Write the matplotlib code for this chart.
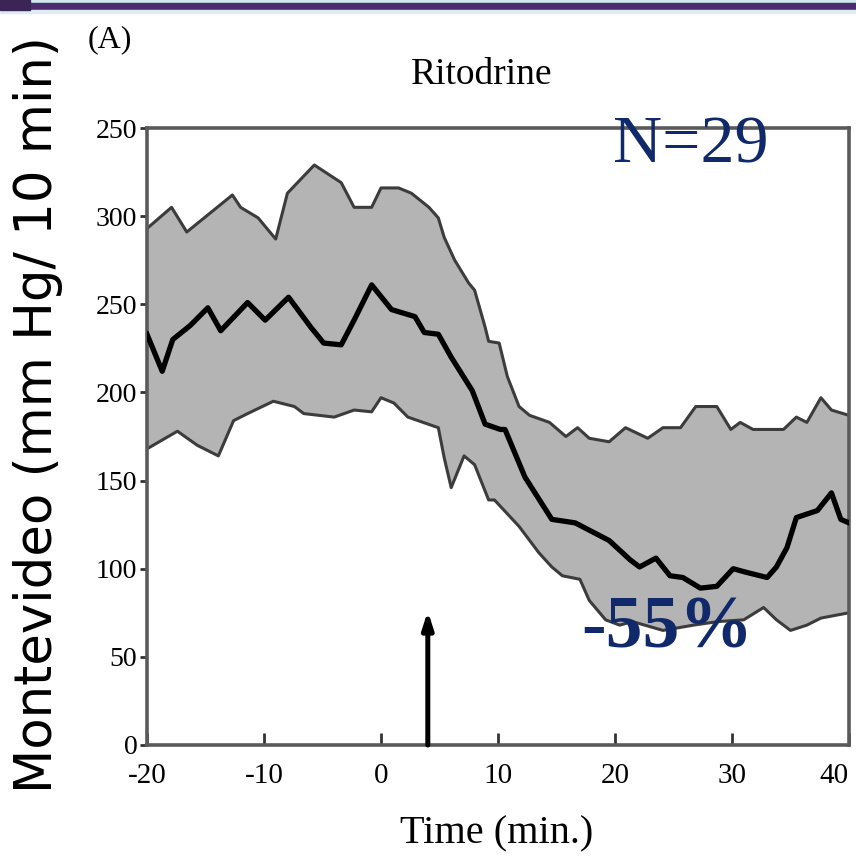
import numpy as np
import matplotlib
matplotlib.use("Agg")
import matplotlib.pyplot as plt
from matplotlib.patches import Rectangle

# ---- data ----
t_upper = [-20, -17.9, -16.6, -12.7, -12.0, -10.5, -9.0, -8.0, -5.7, -3.4, -2.3, -0.8, 0.0, 1.5,
           2.6, 4.1, 4.9, 5.4, 6.3, 7.5, 8.0, 8.9, 9.2, 10.1, 10.8, 11.8, 12.7, 14.4, 15.8, 16.8,
           17.8, 19.5, 20.9, 22.8, 24.1, 25.6, 26.9, 28.7, 29.9, 30.7, 31.8, 34.4, 35.5, 36.4,
           37.6, 38.5, 40.0]
v_upper = [293, 305, 291, 312, 305, 299, 287, 313, 329, 319, 305, 305, 316, 316,
           313, 305, 299, 288, 275, 262, 258, 237, 229, 228, 209, 192, 187, 183, 175, 180,
           174, 172, 180, 174, 180, 180, 192, 192, 179, 183, 179, 179, 186, 183,
           197, 190, 187]

t_mean = [-20, -18.7, -17.8, -16.3, -14.8, -13.7, -11.4, -9.9, -7.9, -6.0, -4.9, -3.4, -2.3, -0.8,
          0.9, 2.9, 3.7, 4.9, 6.0, 7.8, 8.9, 10.2, 10.6, 12.3, 14.6, 16.6, 19.5, 21.3, 22.1,
          23.5, 24.7, 25.8, 27.3, 28.7, 30.1, 31.2, 33.0, 33.8, 34.7, 35.5, 37.3, 38.5, 39.3, 40.0]
v_mean = [233, 212, 230, 238, 248, 235, 251, 241, 254, 237, 228, 227, 241, 261,
          247, 243, 234, 233, 220, 201, 182, 179, 179, 152, 128, 126, 116, 105, 101,
          106, 96, 95, 89, 90, 100, 98, 95, 101, 112, 129, 133, 143, 128, 126]

t_lower = [-20, -17.4, -15.7, -13.9, -12.6, -11.4, -9.2, -7.4, -6.6, -4.0, -2.3, -0.8, 0.0, 1.1,
           2.3, 4.9, 5.4, 6.0, 7.1, 8.0, 9.2, 9.7, 11.8, 13.5, 14.6, 15.5, 17.0, 17.8, 19.2,
           20.4, 21.5, 24.1, 26.7, 28.8, 31.0, 32.7, 33.8, 35.0, 36.4, 37.6, 40.0]
v_lower = [168, 178, 170, 164, 184, 188, 195, 192, 188, 186, 190, 189, 197, 194,
           186, 180, 163, 146, 164, 159, 139, 139, 124, 109, 101, 96, 94, 82, 71,
           68, 70, 65, 68, 70, 71, 78, 71, 65, 68, 72, 75]

arrow_time = 4.0
arrow_top = 76

x_ticks = [-20, -10, 0, 10, 20, 30, 40]
x_tick_labels = ["-20", "-10", "0", "10", "20", "30", "40"]
y_ticks = [0, 50, 100, 150, 200, 250, 300, 350]
y_tick_labels = ["0", "50", "100", "150", "200", "250", "300", "250"]

title = "Ritodrine"
panel = "(A)"
xlabel = "Time (min.)"
ylabel = "Montevideo (mm Hg/ 10 min)"
n_text = "N=29"
pct_text = "-55%"

# ---- figure ----
W, H = 856, 859
fig = plt.figure(figsize=(W / 100, H / 100), dpi=100)
fig.patch.set_facecolor("white")

# slide header decoration
def frect(x0, y0, w, h, color):
    fig.patches.append(Rectangle((x0 / W, 1 - (y0 + h) / H), w / W, h / H,
                                 transform=fig.transFigure, color=color, zorder=0))
frect(0, 0, W, 3, "#cfe8ee")
frect(0, 3, W, 7, "#4b2d6f")
frect(0, 10, W, 3, "#dcecf2")
frect(0, 0, 30, 10, "#3a2556")

ax = fig.add_axes([147 / W, 1 - 745 / H, (849 - 147) / W, (745 - 128) / H])

serif = ["Liberation Serif", "DejaVu Serif"]
navy = "#10296b"

band_t = np.concatenate([np.array(t_upper), np.array(t_lower)[::-1]])
band_v = np.concatenate([np.array(v_upper), np.array(v_lower)[::-1]])
ax.fill(band_t, band_v, color="#b4b4b4", lw=0, zorder=1)
ax.plot(t_upper, v_upper, color="#3c3c3c", lw=2.2, zorder=2)
ax.plot(t_lower, v_lower, color="#3c3c3c", lw=2.2, zorder=2)
ax.plot(t_mean, v_mean, color="black", lw=3.8, zorder=3)

ax.annotate("", xy=(arrow_time, arrow_top), xytext=(arrow_time, 0),
            arrowprops=dict(arrowstyle="-|>,head_width=0.32,head_length=1.0",
                            color="black", lw=3.6, shrinkA=0, shrinkB=0), zorder=4)

ax.set_xlim(-20, 40)
ax.set_ylim(0, 350)
ax.set_xticks(x_ticks)
ax.set_xticklabels(x_tick_labels, fontfamily=serif, fontsize=21)
ax.get_xticklabels()[-1].set_horizontalalignment("right")
ax.set_yticks(y_ticks)
ax.set_yticklabels(y_tick_labels, fontfamily=serif, fontsize=20)
ax.tick_params(axis="x", direction="in", length=9, width=2, color="#333333", pad=13)
ax.tick_params(axis="y", direction="out", length=5, width=2, color="#333333", pad=2)
for s in ax.spines.values():
    s.set_color("#5a5a5a")
    s.set_linewidth(2.6)

fig.text(482 / W, 1 - 75 / H, title, fontfamily=serif, fontsize=27, ha="center", va="center")
fig.text(110 / W, 1 - 40 / H, panel, fontfamily=serif, fontsize=23, ha="center", va="center")
fig.text(497 / W, 1 - 834 / H, xlabel, fontfamily=serif, fontsize=29, ha="center", va="center")
fig.text(38 / W, 1 - 415 / H, ylabel, fontfamily="DejaVu Sans", fontsize=37,
         rotation=90, ha="center", va="center")
fig.text(691 / W, 1 - 146 / H, n_text, fontfamily=serif, fontsize=49, color=navy,
         ha="center", va="center", zorder=10)
fig.text(667 / W, 1 - 630 / H, pct_text, fontfamily=serif, fontsize=53, fontweight="bold",
         color=navy, ha="center", va="center", zorder=10)

fig.savefig("out.png", dpi=100, facecolor="white")
